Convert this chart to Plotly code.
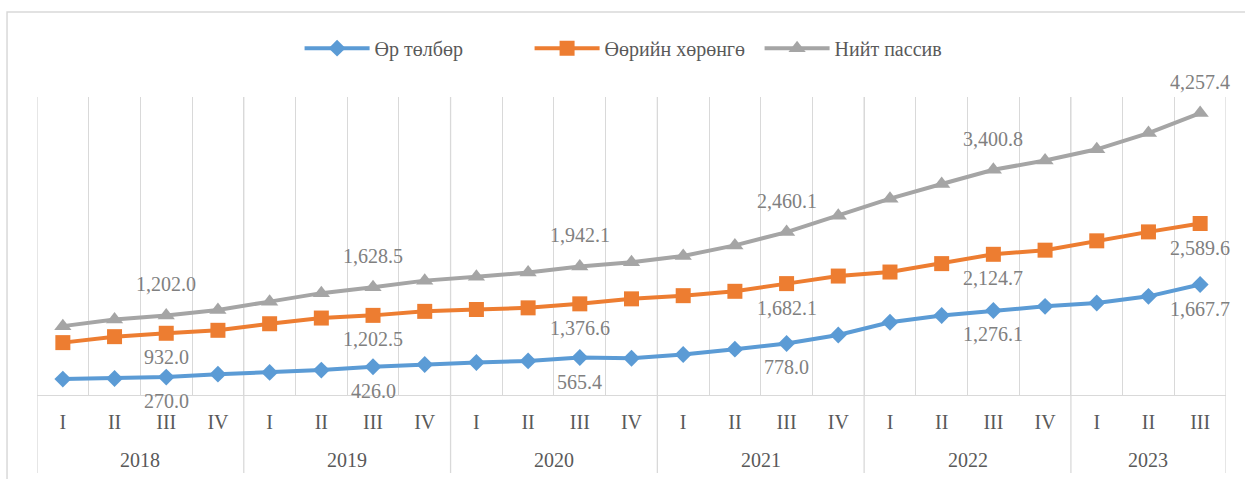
import plotly.graph_objects as go

# categories
years = ["2018"] * 4 + ["2019"] * 4 + ["2020"] * 4 + ["2021"] * 4 + ["2022"] * 4 + ["2023"] * 3
quarters = ["I", "II", "III", "IV", "I", "II", "III", "IV", "I", "II", "III", "IV",
            "I", "II", "III", "IV", "I", "II", "III", "IV", "I", "II", "III"]

# series values (III quarters are labelled)
liabilities = [240, 250, 270.0, 315, 341, 376, 426.0, 461, 490, 515, 565.4, 555,
               611, 692, 778.0, 907, 1099, 1200, 1276.1, 1339, 1390, 1490, 1667.7]
equity = [791, 881, 932.0, 977, 1076, 1162, 1202.5, 1263, 1291, 1316, 1376.6, 1452,
          1500, 1566, 1682.1, 1796, 1857, 1984, 2124.7, 2187, 2328, 2463, 2589.6]
total = [1040, 1140, 1202.0, 1285, 1410, 1538, 1628.5, 1727, 1785, 1850, 1942.1, 2005,
         2100, 2259, 2460.1, 2705, 2965, 3186, 3400.8, 3540, 3710, 3955, 4257.4]

series_names = ["Өр төлбөр", "Өөрийн хөрөнгө", "Нийт пассив"]
labelled_quarter = "III"

FONT = "Liberation Serif, Times New Roman, serif"
GRID = "#D9D9D9"
colors = ["#5B9BD5", "#ED7D31", "#A5A5A5"]
symbols = ["diamond", "square", "triangle-up"]
sizes = [13, 15, 15]
label_shift = [-24, -24, 31]

# unique category key per quarter, shown with the quarter numeral
cats = [f"{y} {q}" for y, q in zip(years, quarters)]

fig = go.Figure()
for name, vals, color, sym, size in zip(series_names, [liabilities, equity, total], colors, symbols, sizes):
    fig.add_trace(go.Scatter(
        x=cats,
        y=vals,
        name=name,
        mode="lines+markers",
        line=dict(color=color, width=4),
        marker=dict(symbol=sym, size=size, color=color),
    ))

# data labels on the III quarter of every year
annotations = []
for vals, shift in zip([liabilities, equity, total], label_shift):
    for c, q, v in zip(cats, quarters, vals):
        if q == labelled_quarter:
            annotations.append(dict(
                x=c, y=v, xref="x", yref="y",
                text=f"{v:,.1f}", showarrow=False, yshift=shift,
                font=dict(family=FONT, size=20, color="#808080"),
            ))

# year row under the quarter numerals, with dividers between years
shapes = []
year_list = list(dict.fromkeys(years))
for yr in year_list:
    idx = [i for i, y in enumerate(years) if y == yr]
    annotations.append(dict(
        x=(idx[0] + idx[-1]) / 2, y=-0.218, xref="x", yref="paper",
        text=yr, showarrow=False, yanchor="middle",
        font=dict(family=FONT, size=20, color="#595959"),
    ))
    shapes.append(dict(type="line", xref="x", yref="paper",
                       x0=idx[0] - 0.5, x1=idx[0] - 0.5, y0=-0.262, y1=1,
                       line=dict(color=GRID, width=1.3), layer="below"))
shapes.append(dict(type="line", xref="x", yref="paper",
                   x0=len(years) - 0.5, x1=len(years) - 0.5, y0=-0.262, y1=1,
                   line=dict(color=GRID, width=1.3), layer="below"))

# chart-area border
shapes.append(dict(type="rect", xref="paper", yref="paper",
                   x0=-0.0252, x1=1.03, y0=-0.33, y1=1.285,
                   line=dict(color=GRID, width=1.5), layer="below"))

fig.update_layout(
    width=1245, height=479,
    margin=dict(l=37, r=19, t=97, b=84),
    paper_bgcolor="white", plot_bgcolor="white",
    font=dict(family=FONT, size=20, color="#595959"),
    showlegend=True,
    legend=dict(orientation="h", x=0.511, xanchor="center", y=1.164, yanchor="middle",
                font=dict(family=FONT, size=20, color="#595959"), itemwidth=65,
                entrywidth=150, traceorder="normal"),
    annotations=annotations,
    shapes=shapes,
)
fig.update_xaxes(
    type="category",
    categoryorder="array", categoryarray=cats,
    tickvals=cats, ticktext=quarters,
    range=[-0.5, len(cats) - 0.5],
    automargin=False,
    tickson="boundaries",
    showgrid=True, gridcolor=GRID, gridwidth=1.3,
    showline=True, linecolor=GRID, linewidth=1.3,
    ticks="", ticklabelstandoff=9,
    tickfont=dict(family=FONT, size=20, color="#595959"),
)
fig.update_yaxes(visible=False, range=[0, 4500], showgrid=False, zeroline=False)

fig.write_html("out.html", config={"displayModeBar": False},
               post_script="document.body.style.margin='0';")
